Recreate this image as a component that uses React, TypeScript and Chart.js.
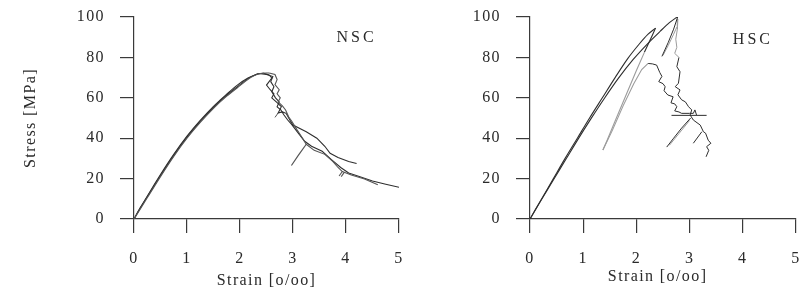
import React, { useEffect, useRef } from 'react';
import { Chart, registerables } from 'chart.js';

Chart.register(...registerables);

type Pt = [number, number];

// ---------- tick labels ----------
const STRAIN_TICKS = [0, 1, 2, 3, 4, 5];
const STRESS_TICKS = [0, 20, 40, 60, 80, 100];

// ---------- NSC (normal strength concrete) ----------
const NSC_ASC_1: Pt[] = [[0, 0], [0.1, 4.8], [0.25, 11], [0.5, 21.5], [0.75, 31.5], [1, 40.5], [1.25, 48.3], [1.5, 55.3], [1.75, 61.3], [2, 66.5], [2.15, 69.5], [2.3, 71.5], [2.45, 72.2]];
const NSC_POST_1: Pt[] = [[2.45, 72.2], [2.55, 71.3], [2.6, 69.8], [2.5, 66.3], [2.57, 64], [2.64, 62], [2.6, 60], [2.7, 57.6], [2.78, 55.6], [2.72, 52.5], [2.8, 53], [2.87, 52.3], [2.94, 49], [3.0, 46.5], [3.25, 43.2], [3.45, 40], [3.6, 36], [3.7, 32.5], [3.85, 30.5], [4.05, 28.5], [4.2, 27.5]];
const NSC_ASC_2: Pt[] = [[0, 0], [0.25, 10.5], [0.5, 21], [0.75, 31], [1, 40], [1.25, 47.8], [1.5, 54.8], [1.75, 60.8], [2, 66], [2.2, 70], [2.38, 72], [2.55, 72.3]];
const NSC_POST_2: Pt[] = [[2.55, 72.3], [2.66, 71.5], [2.7, 69], [2.66, 66.5], [2.74, 64], [2.7, 62], [2.76, 60], [2.72, 58], [2.8, 56], [2.86, 54], [2.92, 50.5], [2.98, 48.3], [3.08, 44], [3.18, 40], [3.25, 37], [3.4, 34], [3.6, 32], [3.75, 28.5], [3.85, 25.5], [3.93, 23.5], [4.1, 21.8], [4.35, 19.8], [4.6, 17]];
const NSC_ASC_3: Pt[] = [[0, 0], [0.25, 11.3], [0.5, 22], [0.75, 32], [1, 41], [1.25, 48.8], [1.5, 55.8], [1.75, 61.8], [1.95, 66.3], [2.15, 69.8], [2.35, 72]];
const NSC_POST_3: Pt[] = [[2.35, 72], [2.5, 71.5], [2.62, 70.5], [2.58, 68], [2.64, 65.5], [2.6, 63], [2.67, 60], [2.74, 58], [2.7, 55.5], [2.77, 54], [2.83, 51.5], [2.9, 49], [2.97, 47], [3.1, 42.5], [3.22, 38.5], [3.35, 36], [3.55, 33.5], [3.72, 29.5], [3.9, 25.5], [4.05, 22.8], [4.25, 21], [4.5, 18.8], [4.75, 17.2], [5.0, 15.7]];
const NSC_GREY_SEG: Pt[] = [[1.62, 58.6], [1.82, 63.2]];
const NSC_UNLOAD_1: Pt[] = [[3.25, 37], [3.1, 31.5], [2.97, 26.5]];
const NSC_UNLOAD_2: Pt[] = [[3.93, 23.5], [3.87, 21.3]];
const NSC_UNLOAD_3: Pt[] = [[3.97, 23.2], [3.91, 21]];
const NSC_TAIL: Pt[] = [[2.72, 52.5], [2.66, 50.3]];

// ---------- HSC (high strength concrete) ----------
const HSC_ASC_A: Pt[] = [[0, 0], [0.22, 10], [0.44, 20], [0.66, 30], [0.89, 40], [1.12, 50], [1.36, 60], [1.6, 70], [1.84, 79.5], [2.05, 86.5], [2.22, 91.5], [2.36, 94.5]];
const HSC_UNLOAD_A_TOP: Pt[] = [[2.36, 94.5], [2.3, 91], [2.15, 82.5]];
const HSC_UNLOAD_A: Pt[] = [[2.15, 82.5], [2.0, 73.5], [1.8, 61], [1.6, 48.5], [1.45, 39], [1.37, 34.2]];
const HSC_RELOAD_A: Pt[] = [[1.37, 34.2], [1.55, 44], [1.75, 56], [1.95, 67], [2.1, 74], [2.22, 77]];
const HSC_POST_A: Pt[] = [[2.22, 77], [2.3, 76.8], [2.38, 76.2], [2.44, 72.5], [2.48, 70.6], [2.42, 68], [2.5, 67], [2.54, 65.5], [2.52, 63.5], [2.59, 61.4], [2.69, 60.5], [2.65, 57.5], [2.72, 57], [2.76, 55.6], [2.72, 53.5], [2.8, 53], [2.85, 52.3], [3.0, 52.3], [3.07, 52.3], [3.1, 54], [3.13, 51.5]];
const HSC_HORIZ: Pt[] = [[2.66, 51.3], [3.32, 51.3]];
const HSC_ASC_B: Pt[] = [[0, 0], [0.22, 9.8], [0.45, 19.8], [0.68, 29.8], [0.91, 39.8], [1.15, 49.8], [1.4, 59.8], [1.66, 69.6], [1.94, 79], [2.2, 86.5], [2.45, 93], [2.62, 97.2], [2.78, 100.3]];
const HSC_UNLOAD_B: Pt[] = [[2.78, 100.3], [2.7, 94], [2.6, 87.5], [2.48, 80.5]];
const HSC_RELOAD_B: Pt[] = [[2.5, 81], [2.6, 86], [2.7, 91.5], [2.76, 95]];
const HSC_POST_B_GREY: Pt[] = [[2.78, 99], [2.77, 94], [2.74, 89], [2.76, 85], [2.72, 82], [2.8, 80]];
const HSC_POST_B: Pt[] = [[2.8, 80], [2.76, 75.4], [2.82, 72.9], [2.79, 67.2], [2.73, 65.5], [2.82, 63.9], [2.78, 61.5], [2.85, 59], [2.92, 58], [2.98, 55.6], [3.04, 54], [3.01, 51.5], [3.07, 49], [3.2, 46.5], [3.26, 43.2], [3.3, 42.5], [3.35, 39], [3.4, 37.5], [3.32, 35.8], [3.36, 34], [3.31, 30.8]];
const HSC_UNLOAD_C: Pt[] = [[3.02, 50], [2.85, 45], [2.7, 40], [2.57, 35.6]];
const HSC_UNLOAD_C2: Pt[] = [[3.0, 48.8], [2.8, 42.3], [2.62, 36.5]];
const HSC_UNLOAD_D: Pt[] = [[3.23, 43.2], [3.07, 37.5]];

const DARK = '#2e2e2e';
const MID = '#555555';
const GREY = '#9c9c9c';
const AXIS = '#3a3a3a';
const TEXT = '#2a2a2a';
const FONT_FAMILY = "'Liberation Serif', 'DejaVu Serif', serif";

function line(points: Pt[], color: string, width = 1.1, tension = 0) {
  return {
    data: points.map(([x, y]) => ({ x, y })),
    borderColor: color,
    backgroundColor: color,
    borderWidth: width,
    pointRadius: 0,
    tension,
    fill: false,
    showLine: true,
  };
}

const spacingPlugin = {
  id: 'letterSpacing',
  beforeLayout(chart: any) {
    chart.ctx.letterSpacing = '1.4px';
  },
  beforeDraw(chart: any) {
    chart.ctx.letterSpacing = '1.4px';
  },
};

const panelLabelPlugin = {
  id: 'panelLabel',
  afterDraw(chart: any, _args: any, opts: any) {
    const { ctx, scales } = chart;
    ctx.save();
    ctx.font = `16px ${FONT_FAMILY}`;
    ctx.fillStyle = TEXT;
    ctx.letterSpacing = '3px';
    ctx.textAlign = 'center';
    ctx.textBaseline = 'middle';
    ctx.fillText(opts.text, scales.x.getPixelForValue(opts.x), scales.y.getPixelForValue(opts.y));
    ctx.restore();
  },
};

function makeOptions(cfg: {
  yWidth: number;
  rightPad: number;
  yTitle: string | null;
  xTitle: string;
  xTitleBottom: number;
  label: string;
  labelX: number;
  labelY: number;
}) {
  const font = { family: FONT_FAMILY, size: 16 };
  return {
    responsive: false,
    animation: false,
    devicePixelRatio: 1,
    layout: { padding: { top: 17, right: cfg.rightPad, bottom: 0, left: 0 } },
    plugins: {
      legend: { display: false },
      tooltip: { enabled: false },
      panelLabel: { text: cfg.label, x: cfg.labelX, y: cfg.labelY },
    },
    scales: {
      x: {
        type: 'linear',
        min: 0,
        max: 5,
        afterBuildTicks: (s: any) => {
          s.ticks = STRAIN_TICKS.map((v) => ({ value: v }));
        },
        afterFit: (s: any) => {
          s.height = 76;
          s.paddingLeft = 0;
          s.paddingRight = 0;
        },
        ticks: { font, color: TEXT, padding: 16, maxRotation: 0, autoSkip: false, callback: (v: any) => String(v) },
        grid: { drawOnChartArea: false, drawTicks: true, tickLength: 14, color: AXIS, lineWidth: 1.2 },
        border: { display: true, color: AXIS, width: 1.2 },
        title: { display: true, text: cfg.xTitle, font, color: TEXT, padding: { top: 0, bottom: cfg.xTitleBottom } },
      },
      y: {
        type: 'linear',
        min: 0,
        max: 100,
        afterBuildTicks: (s: any) => {
          s.ticks = STRESS_TICKS.map((v) => ({ value: v }));
        },
        afterFit: (s: any) => {
          s.width = cfg.yWidth;
          s.paddingTop = 0;
          s.paddingBottom = 0;
        },
        ticks: { font, color: TEXT, padding: 15, autoSkip: false, callback: (v: any) => String(v) },
        grid: { drawOnChartArea: false, drawTicks: true, tickLength: 14, color: AXIS, lineWidth: 1.2 },
        border: { display: true, color: AXIS, width: 1.2 },
        title: cfg.yTitle
          ? { display: true, text: cfg.yTitle, font, color: TEXT, padding: { top: 21, bottom: 0 } }
          : { display: false },
      },
    },
  };
}

function Panel(props: { width: number; left: number; datasets: any[]; options: any }) {
  const ref = useRef<HTMLCanvasElement | null>(null);
  useEffect(() => {
    if (!ref.current) return;
    const chart = new Chart(ref.current, {
      type: 'line',
      data: { datasets: props.datasets },
      options: props.options,
      plugins: [spacingPlugin, panelLabelPlugin],
    } as any);
    return () => chart.destroy();
  }, []);
  return (
    <canvas
      ref={ref}
      width={props.width}
      height={295}
      style={{ position: 'absolute', left: props.left, top: 0, width: props.width, height: 295 }}
    />
  );
}

export default function App() {
  const nscSets = [
    line(NSC_ASC_2, MID, 1.1, 0.3),
    line(NSC_POST_2, MID, 1.1),
    line(NSC_ASC_3, DARK, 1.1, 0.3),
    line(NSC_POST_3, DARK, 1.1),
    line(NSC_ASC_1, DARK, 1.1, 0.3),
    line(NSC_POST_1, DARK, 1.1),
    line(NSC_GREY_SEG, '#bdbdbd', 1.6),
    line(NSC_UNLOAD_1, MID, 1.2),
    line(NSC_UNLOAD_2, MID, 1.1),
    line(NSC_UNLOAD_3, MID, 1.1),
    line(NSC_TAIL, MID, 1.0),
  ];
  const hscSets = [
    line(HSC_UNLOAD_A, GREY, 1.1),
    line(HSC_RELOAD_A, GREY, 1.1),
    line(HSC_UNLOAD_A_TOP, DARK, 1.1),
    line(HSC_ASC_A, DARK, 1.1, 0.3),
    line(HSC_POST_A, DARK, 1.0),
    line(HSC_HORIZ, DARK, 1.0),
    line(HSC_ASC_B, DARK, 1.1, 0.3),
    line(HSC_UNLOAD_B, DARK, 1.0),
    line(HSC_RELOAD_B, GREY, 1.0),
    line(HSC_POST_B_GREY, GREY, 1.0),
    line(HSC_POST_B, DARK, 1.0),
    line(HSC_UNLOAD_C, DARK, 1.0),
    line(HSC_UNLOAD_C2, GREY, 1.0),
    line(HSC_UNLOAD_D, DARK, 1.0),
  ];
  const nscOpts = makeOptions({
    yWidth: 134,
    rightPad: 21,
    yTitle: 'Stress [MPa]',
    xTitle: 'Strain [o/oo]',
    xTitleBottom: 5,
    label: 'NSC',
    labelX: 4.2,
    labelY: 89.5,
  });
  const hscOpts = makeOptions({
    yWidth: 110,
    rightPad: 11,
    yTitle: null,
    xTitle: 'Strain [o/oo]  ',
    xTitleBottom: 9,
    label: 'HSC',
    labelX: 4.19,
    labelY: 88.5,
  });
  return (
    <div style={{ position: 'fixed', left: 0, top: 0, width: 807, height: 295, background: '#ffffff', overflow: 'hidden' }}>
      <Panel width={420} left={0} datasets={nscSets} options={nscOpts} />
      <Panel width={387} left={420} datasets={hscSets} options={hscOpts} />
    </div>
  );
}
